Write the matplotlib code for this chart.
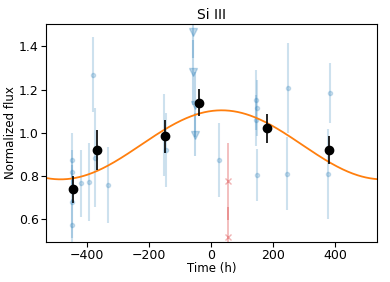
import numpy as np
import matplotlib
matplotlib.use("Agg")
import matplotlib.pyplot as plt

# individual exposures (light blue)
blue_t = [-450, -449, -450, -450, -418, -395, -382, -373, -331, -150, -146, 26,
          145, 149, 146, 147, 249, 247, 384, 379]
blue_f = [0.874, 0.82, 0.68, 0.572, 0.765, 0.772, 1.27, 0.885, 0.758, 0.99, 0.92, 0.873,
          1.153, 1.115, 1.057, 0.803, 1.207, 0.811, 1.184, 0.808]
blue_e = [0.126, 0.10, 0.17, 0.12, 0.155, 0.18, 0.175, 0.23, 0.175, 0.19, 0.17, 0.172,
          0.14, 0.13, 0.12, 0.12, 0.207, 0.17, 0.14, 0.21]

# exposures flagged with triangles
tri_t = [-57, -57, -52, -52]
tri_f = [1.467, 1.28, 1.13, 0.99]
tri_e = [0.12, 0.15, 0.15, 0.10]

# rejected exposures (red)
red_t = [56, 56]
red_f = [0.774, 0.515]
red_e = [0.18, 0.14]

# binned points (black)
bin_t = [-444, -369, -148, -38, 182, 381]
bin_f = [0.738, 0.92, 0.983, 1.14, 1.02, 0.92]
bin_e = [0.063, 0.093, 0.075, 0.063, 0.067, 0.066]

# sinusoidal model
period = 1040.0
t0 = 34.5
mean_flux = 0.944
amp = 0.16

fig = plt.figure(figsize=(3.9, 2.82), dpi=100)
ax = fig.add_axes([0.119, 0.143, 0.847, 0.771])

ax.errorbar(blue_t, blue_f, yerr=blue_e, fmt='o', color='C0', ms=3,
            elinewidth=1.5, alpha=0.22, zorder=1)
ax.errorbar(tri_t, tri_f, yerr=tri_e, fmt='v', color='C0', ms=6,
            elinewidth=1.5, alpha=0.28, zorder=1)
ax.errorbar(red_t, red_f, yerr=red_e, fmt='x', color='C3', ms=4.5,
            elinewidth=1.2, alpha=0.35, zorder=1)

tt = np.linspace(-531, 535, 400)
ax.plot(tt, mean_flux + amp * np.cos(2 * np.pi * (tt - t0) / period),
        color='C1', lw=1.3, zorder=2)

ax.errorbar(bin_t, bin_f, yerr=bin_e, fmt='o', color='k', ms=6,
            elinewidth=1.2, zorder=3)

ax.set_xlim(-531, 535)
ax.set_ylim(0.495, 1.503)
ax.set_xticks([-400, -200, 0, 200, 400])
ax.set_yticks([0.6, 0.8, 1.0, 1.2, 1.4])
ax.tick_params(labelsize=9, pad=2)
ax.tick_params(axis='x', pad=1.5)
ax.set_xlabel("Time (h)", fontsize=8.5, labelpad=0)
ax.set_ylabel("Normalized flux", fontsize=8.5, labelpad=1)
ax.set_title("Si III", fontsize=10, pad=4)

fig.savefig("out.png", dpi=100)
